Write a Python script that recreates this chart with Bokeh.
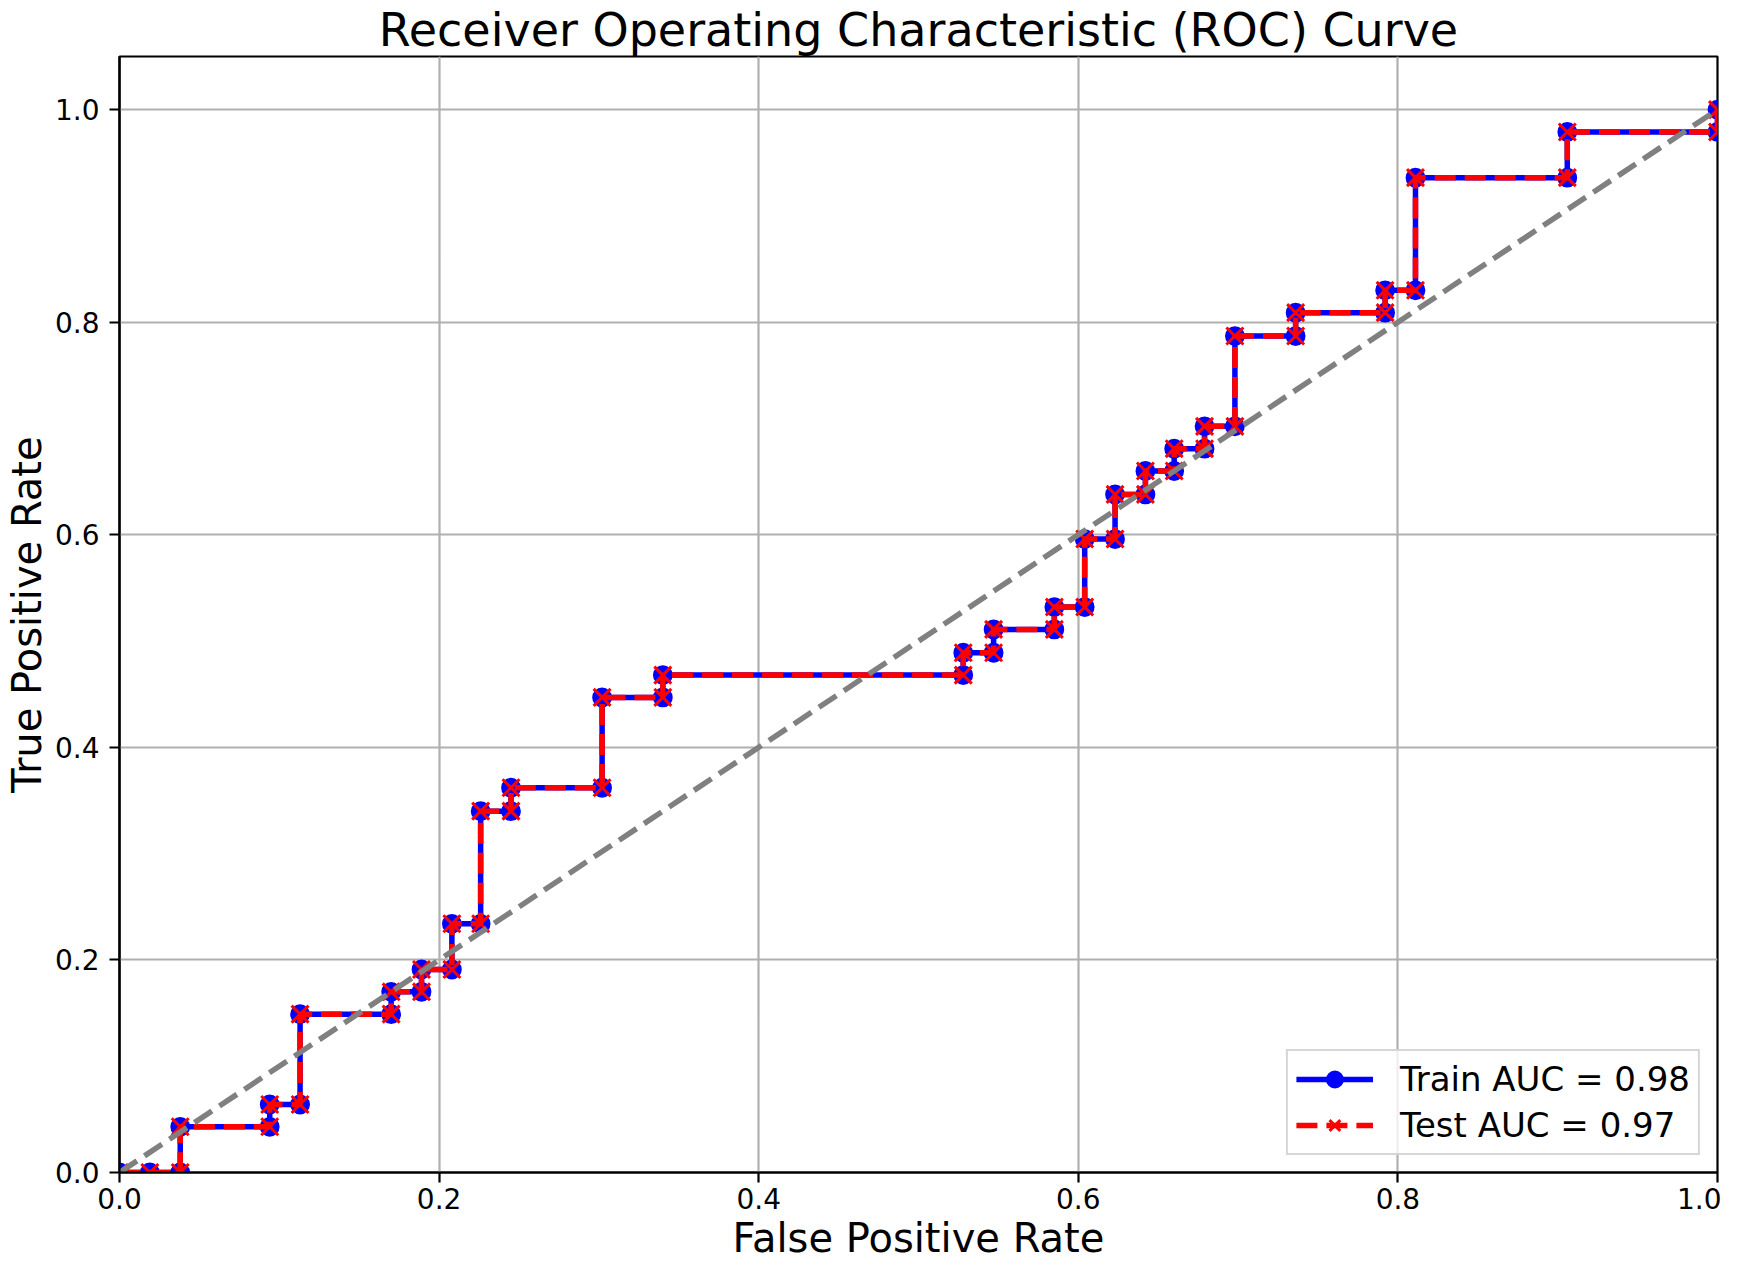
from bokeh.plotting import figure
from bokeh.models import (Range1d, FixedTicker, PrintfTickFormatter, Legend,
                          LegendItem)
from bokeh.embed import file_html
from bokeh.resources import INLINE

# ---- data ----
train_fpr = [0.000, 0.019, 0.038, 0.038, 0.094, 0.094, 0.113, 0.113, 0.170, 0.170,
             0.189, 0.189, 0.208, 0.208, 0.226, 0.226, 0.245, 0.245, 0.302, 0.302,
             0.340, 0.340, 0.528, 0.528, 0.547, 0.547, 0.585, 0.585, 0.604, 0.604,
             0.623, 0.623, 0.642, 0.642, 0.660, 0.660, 0.679, 0.679, 0.698, 0.698,
             0.736, 0.736, 0.792, 0.792, 0.811, 0.811, 0.906, 0.906, 1.000, 1.000]
train_tpr = [0.000, 0.000, 0.000, 0.043, 0.043, 0.064, 0.064, 0.149, 0.149, 0.170,
             0.170, 0.191, 0.191, 0.234, 0.234, 0.340, 0.340, 0.362, 0.362, 0.447,
             0.447, 0.468, 0.468, 0.489, 0.489, 0.511, 0.511, 0.532, 0.532, 0.596,
             0.596, 0.638, 0.638, 0.660, 0.660, 0.681, 0.681, 0.702, 0.702, 0.787,
             0.787, 0.809, 0.809, 0.830, 0.830, 0.936, 0.936, 0.979, 0.979, 1.000]
test_fpr = [0.000, 0.019, 0.038, 0.038, 0.094, 0.094, 0.113, 0.113, 0.170, 0.170,
            0.189, 0.189, 0.208, 0.208, 0.226, 0.226, 0.245, 0.245, 0.302, 0.302,
            0.340, 0.340, 0.528, 0.528, 0.547, 0.547, 0.585, 0.585, 0.604, 0.604,
            0.623, 0.623, 0.642, 0.642, 0.660, 0.660, 0.679, 0.679, 0.698, 0.698,
            0.736, 0.736, 0.792, 0.792, 0.811, 0.811, 0.906, 0.906, 1.000, 1.000]
test_tpr = [0.000, 0.000, 0.000, 0.043, 0.043, 0.064, 0.064, 0.149, 0.149, 0.170,
            0.170, 0.191, 0.191, 0.234, 0.234, 0.340, 0.340, 0.362, 0.362, 0.447,
            0.447, 0.468, 0.468, 0.489, 0.489, 0.511, 0.511, 0.532, 0.532, 0.596,
            0.596, 0.638, 0.638, 0.660, 0.660, 0.681, 0.681, 0.702, 0.702, 0.787,
            0.787, 0.809, 0.809, 0.830, 0.830, 0.936, 0.936, 0.979, 0.979, 1.000]
chance_x = [0.0, 1.0]
chance_y = [0.0, 1.0]

x_ticks = [0.0, 0.2, 0.4, 0.6, 0.8, 1.0]
y_ticks = [0.0, 0.2, 0.4, 0.6, 0.8, 1.0]

title_text = "Receiver Operating Characteristic (ROC) Curve"
x_label_text = "False Positive Rate"
y_label_text = "True Positive Rate"
train_label = "Train AUC = 0.98"
test_label = "Test AUC = 0.97"

FONT = "DejaVu Sans"

p = figure(width=1721, height=1263,
           x_range=Range1d(0.0, 1.0), y_range=Range1d(0.0, 1.05),
           output_backend="svg", toolbar_location=None,
           min_border_left=118, min_border_right=4,
           min_border_top=48, min_border_bottom=60)
p.background_fill_color = "white"
p.border_fill_color = "white"
p.outline_line_color = "black"
p.outline_line_width = 2.2
p.outline_line_alpha = 1.0

# title
p.title.text = title_text
p.title.text_font = FONT
p.title.text_font_size = "46px"
p.title.text_font_style = "normal"
p.title.text_color = "black"
p.title.align = "center"
p.title.standoff = 0

# axes
p.xaxis.axis_label = x_label_text
p.yaxis.axis_label = y_label_text
for ax, ticks, standoff, lab_standoff in ((p.xaxis, x_ticks, 5, 3),
                                          (p.yaxis, y_ticks, 10, 2)):
    ax.ticker = FixedTicker(ticks=ticks)
    ax.formatter = PrintfTickFormatter(format="%.1f")
    ax.major_label_text_font = FONT
    ax.major_label_text_font_size = "28px"
    ax.major_label_text_color = "black"
    ax.major_label_standoff = standoff
    ax.axis_label_text_font = FONT
    ax.axis_label_text_font_size = "40px"
    ax.axis_label_text_font_style = "normal"
    ax.axis_label_text_color = "black"
    ax.axis_label_standoff = lab_standoff
    ax.axis_line_color = "black"
    ax.axis_line_width = 2.2
    ax.major_tick_line_color = "black"
    ax.major_tick_line_width = 2.2
    ax.major_tick_out = 10
    ax.major_tick_in = 0
    ax.minor_tick_out = 0
    ax.minor_tick_in = 0

p.xgrid.ticker = FixedTicker(ticks=x_ticks)
p.ygrid.ticker = FixedTicker(ticks=y_ticks)
for g in (p.xgrid, p.ygrid):
    g.grid_line_color = "#b0b0b0"
    g.grid_line_width = 2.2

# curves
tr_line = p.line(train_fpr, train_tpr, line_color="blue", line_width=5.5,
                 line_join="round")
tr_pts = p.scatter(train_fpr, train_tpr, marker="circle", size=17,
                   fill_color="blue", line_color="blue", line_width=2.8)
te_line = p.line(test_fpr, test_tpr, line_color="red", line_width=5.5,
                 line_dash="21 9")
te_pts = p.scatter(test_fpr, test_tpr, marker="x", size=24,
                   line_color="red", line_width=3)
diag = p.line(chance_x, chance_y, line_color="#808080", line_width=5.5,
              line_dash="21 9")

legend = Legend(items=[LegendItem(label=train_label, renderers=[tr_line, tr_pts]),
                       LegendItem(label=test_label, renderers=[te_line, te_pts])],
                location="bottom_right")
legend.label_text_font = FONT
legend.label_text_font_size = "34px"
legend.label_text_color = "black"
legend.glyph_width = 77
legend.glyph_height = 38
legend.label_height = 38
legend.label_standoff = 27
legend.padding = 8
legend.spacing = 6
legend.margin = 17
legend.border_line_color = "#cccccc"
legend.border_line_width = 2.8
legend.border_line_alpha = 0.8
legend.background_fill_color = "white"
legend.background_fill_alpha = 0.8
p.add_layout(legend)

open("out.html", "w").write(file_html(p, INLINE))
